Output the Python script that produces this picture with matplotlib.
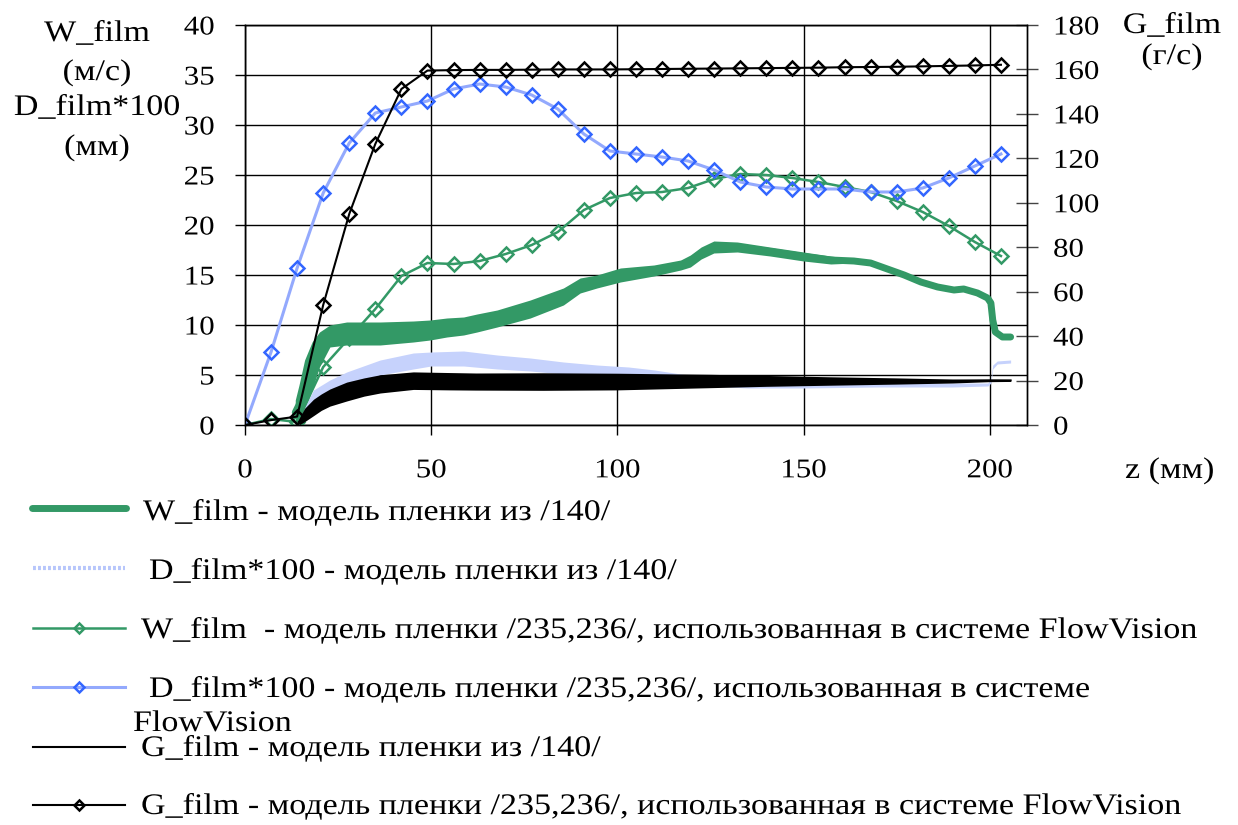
import matplotlib
matplotlib.use("Agg")
import numpy as np
import matplotlib.pyplot as plt
from matplotlib import patheffects
from matplotlib.transforms import Affine2D
from matplotlib.lines import Line2D

plt.rcParams['font.family'] = ['Liberation Serif', 'DejaVu Serif']

# ---------------- data ----------------
# FlowVision film model /235,236/ (sampled every 7 mm)
z_fv = [0, 7, 14, 21, 28, 35, 42, 49, 56, 63, 70, 77, 84, 91, 98,
        105, 112, 119, 126, 133, 140, 147, 154, 161, 168, 175, 182, 189, 196, 203]
w_fv = [0, 0.6, 0.3, 5.8, 8.7, 11.6, 14.9, 16.2, 16.1, 16.4, 17.1, 18.0, 19.3, 21.5, 22.7,
        23.2, 23.3, 23.7, 24.6, 25.1, 25.0, 24.7, 24.3, 23.8, 23.3, 22.4, 21.3, 19.9, 18.3, 16.9]
d_fv = [0, 7.3, 15.7, 23.2, 28.2, 31.2, 31.8, 32.4, 33.6, 34.1, 33.8, 33.0, 31.6, 29.1, 27.4,
        27.1, 26.8, 26.4, 25.5, 24.3, 23.8, 23.6, 23.6, 23.6, 23.3, 23.3, 23.7, 24.7, 25.9, 27.1]
g_fv = [0, 2.2, 3.8, 54, 95, 126.5, 151.2, 159.5, 159.7, 159.8, 159.8, 159.9, 160, 160, 160,
        160.1, 160.2, 160.3, 160.4, 160.5, 160.6, 160.7, 160.8, 161, 161.1, 161.2, 161.4, 161.6, 161.8, 162.1]

# Film model /140/ : scatter envelopes (low / high) of the dense solution
z_w140 = [13.5, 14.5, 16, 18, 20, 22.8, 27.3, 36.3, 45.2, 49.7, 54.2, 58.7, 62.3, 67.7, 76.6,
          85.5, 90, 94.5, 100.8, 109.8, 117, 119.6, 122.5, 125.9, 132.2, 141, 150, 157.3, 163.5, 168,
          172.5, 177, 181.5, 186, 190.4, 193, 196.7, 199.4, 200.3, 200.8, 201.5, 203.4, 205.6]
w140_lo = [0.0, 0.0, 1.5, 3.5, 5.8, 7.8, 8.0, 8.0, 8.3, 8.5, 8.8, 9.0, 9.3, 9.8, 10.7,
           12.0, 13.2, 13.7, 14.3, 14.9, 15.5, 15.8, 16.6, 17.2, 17.3, 16.9, 16.4, 16.1, 16.2, 16.0,
           15.4, 14.8, 14.1, 13.6, 13.3, 13.4, 13.0, 12.5, 12.0, 10.3, 9.2, 8.7, 8.7]
w140_hi = [2.5, 4.0, 6.5, 8.3, 9.3, 10.0, 10.3, 10.3, 10.4, 10.5, 10.7, 10.8, 11.1, 11.5, 12.5,
           13.7, 14.7, 15.0, 15.7, 16.0, 16.5, 17.0, 17.8, 18.4, 18.3, 17.8, 17.3, 16.9, 16.6, 16.4,
           15.8, 15.2, 14.5, 14.0, 13.7, 13.8, 13.4, 12.9, 12.4, 10.7, 9.4, 8.9, 8.9]

z_d140 = [14.5, 16, 18.4, 22.8, 27.3, 36.3, 45.2, 50, 58.7, 67.7, 76.6, 85.5, 94.5, 103, 110,
          117, 125, 135, 150, 170, 190, 199.5, 200.3, 200.8, 202, 205.6]
d140_lo = [0.0, 0.5, 1.5, 2.8, 4.0, 5.0, 5.6, 5.9, 5.9, 5.6, 5.4, 5.1, 4.9, 4.7, 4.5,
           4.2, 3.9, 3.7, 3.7, 3.8, 3.8, 3.9, 4.2, 5.6, 6.1, 6.2]
d140_hi = [0.3, 1.8, 3.5, 4.5, 5.3, 6.5, 7.2, 7.3, 7.4, 7.0, 6.7, 6.3, 6.0, 5.8, 5.5,
           5.1, 4.6, 4.3, 4.2, 4.2, 4.2, 4.2, 4.6, 6.0, 6.4, 6.5]

z_g140 = [14.5, 16, 18.4, 20.5, 22.8, 27.3, 32, 36.3, 45.2, 55, 62, 80, 100, 125, 140,
          157, 175, 190, 200, 205.6]
g140_lo = [0.0, 1.5, 4.2, 6.6, 8.5, 10.8, 13.0, 14.4, 16.0, 15.8, 15.7, 15.6, 15.8, 16.8, 17.4,
           17.9, 18.4, 18.9, 19.5, 19.6]
g140_hi = [2.9, 7.5, 11.6, 14.0, 16.2, 19.3, 21.2, 22.6, 23.9, 23.6, 23.4, 23.5, 23.3, 22.8, 22.3,
           21.7, 21.2, 20.7, 20.6, 20.5]

x_ticks = [0, 50, 100, 150, 200]
yl_ticks = [0, 5, 10, 15, 20, 25, 30, 35, 40]
yr_ticks = [0, 20, 40, 60, 80, 100, 120, 140, 160, 180]

legend_labels = [
    "W_film - модель пленки из /140/",
    "D_film*100 - модель пленки из /140/",
    "W_film  - модель пленки /235,236/, использованная в системе FlowVision",
    "D_film*100 - модель пленки /235,236/, использованная в системе",
    "G_film - модель пленки из /140/",
    "G_film - модель пленки /235,236/, использованная в системе FlowVision",
]
legend_wrap = "FlowVision"
left_label = ["W_film", "(м/с)", "D_film*100", "(мм)"]
right_label = ["G_film", "(г/с)"]
x_label = "z (мм)"

# ---------------- styles ----------------
GREEN = '#339966'
BLUE_LINE = '#93a9fd'
BLUE_MARK = '#3366ff'
BLUE_BAND = '#c6d2fc'


class Tracking(patheffects.AbstractPathEffect):
    """Widen glyph runs horizontally around an anchor (loose letter spacing look)."""

    def __init__(self, sx=1.14, anchor='left'):
        super().__init__()
        self.sx = sx
        self.anchor = anchor

    def draw_path(self, renderer, gc, tpath, affine, rgbFace=None):
        cx = 0.0
        if self.anchor != 'left' and len(tpath.vertices):
            ext = tpath.get_extents()
            cx = ext.x1 if self.anchor == 'right' else 0.5 * (ext.x0 + ext.x1)
        tr = Affine2D().translate(-cx, 0).scale(self.sx, 1).translate(cx, 0) + affine
        renderer.draw_path(gc, tpath, tr, rgbFace)


SX = 1.14
TICK_FS = 19.5
TEXT_FS = 21.5

W, H = 1238, 825
fig = plt.figure(figsize=(W / 100, H / 100), dpi=100)
ax = fig.add_axes([245 / W, 1 - 425 / H, 782 / W, 400 / H])
ax2 = ax.twinx()

# --- film model /140/ (left axis) ---
w140_mid = (np.array(w140_lo) + np.array(w140_hi)) / 2
ax.fill_between(z_w140, w140_lo, w140_hi, color=GREEN, lw=0, zorder=2)
ax.plot(z_w140, w140_mid, color=GREEN, lw=5, solid_capstyle='round',
        solid_joinstyle='round', zorder=2)
ax.fill_between(z_d140, d140_lo, d140_hi, color=BLUE_BAND, lw=0, zorder=2.1)

# --- FlowVision model (left axis) ---
ax.plot(z_fv, w_fv, color=GREEN, lw=1.8, marker='D', ms=7.5, mfc='none',
        mec=GREEN, mew=1.8, zorder=3)
ax.plot(z_fv, d_fv, color=BLUE_LINE, lw=2.2, marker='D', ms=7.5, mfc='none',
        mec=BLUE_MARK, mew=1.8, zorder=3.1)

# --- mass flow (right axis) ---
g140_mid = (np.array(g140_lo) + np.array(g140_hi)) / 2
ax2.fill_between(z_g140, g140_lo, g140_hi, color='black', lw=0, zorder=2)
ax2.plot(z_g140, g140_mid, color='black', lw=1.5, zorder=2)
ax2.plot(z_fv, g_fv, color='black', lw=1.5, marker='D', ms=7.5, mfc='none',
         mec='black', mew=1.8, zorder=3)

# --- axes, grid, ticks ---
ax.set_xlim(0, 210)
ax.set_ylim(0, 40)
ax2.set_ylim(0, 180)
ax.set_axisbelow(True)
ax.grid(True, color='black', lw=1.0)

ax.set_xticks(x_ticks, [str(v) for v in x_ticks], fontsize=TICK_FS,
              path_effects=[Tracking(SX, 'center')])
ax.set_yticks(yl_ticks, [str(v) for v in yl_ticks], fontsize=TICK_FS,
              path_effects=[Tracking(SX, 'right')])
ax2.set_yticks(yr_ticks, [str(v) for v in yr_ticks], fontsize=TICK_FS,
               path_effects=[Tracking(SX, 'left')])

ax.tick_params(axis='x', direction='out', length=7.5, width=1, pad=16.5)
ax.tick_params(axis='y', direction='out', length=7.5, width=1, pad=14.5)
ax2.tick_params(axis='y', direction='inout', length=16.5, width=1, pad=10.5,
                color='#444444')
for a in (ax, ax2):
    for s in a.spines.values():
        s.set_linewidth(1.0)
        s.set_color('black')

# --- free text and legend on a pixel-space overlay ---
lax = fig.add_axes([0, 0, 1, 1], zorder=5)
lax.set_xlim(0, W)
lax.set_ylim(H, 0)
lax.axis('off')


def put(x, y, s, ha='left', fs=TEXT_FS):
    lax.text(x, y, s, ha=ha, va='baseline', fontsize=fs,
             path_effects=[Tracking(SX, ha)])


for s, yb in zip(left_label, [41, 80, 115, 155]):
    put(97, yb, s, ha='center')
for s, yb in zip(right_label, [33, 64]):
    put(1172, yb, s, ha='center')
put(1125, 478, x_label)

rows = [508, 568, 628, 687, 747, 805]
text_x = [143, 149, 141, 149, 141, 141]
base = [520, 579, 638, 697, 756, 814]
hx0, hx1 = 33, 125
hxm = 0.5 * (hx0 + hx1)

lax.add_line(Line2D([hx0 - 1, hx1 + 1], [rows[0]] * 2, color=GREEN, lw=5,
                    solid_capstyle='round'))
lax.add_line(Line2D([hx0, hx1], [rows[1]] * 2, color='#b7c6fb', lw=3,
                    linestyle=(0, (0.7, 0.5))))
lax.add_line(Line2D([hx0, hx1], [rows[2]] * 2, color=GREEN, lw=1.8))
lax.add_line(Line2D([hxm], [rows[2]], marker='D', ms=5.5, mfc='none', mec=GREEN, mew=1.8))
lax.add_line(Line2D([hx0, hx1], [rows[3]] * 2, color=BLUE_LINE, lw=2.2))
lax.add_line(Line2D([hxm], [rows[3]], marker='D', ms=5.5, mfc='none', mec=BLUE_MARK, mew=1.8))
lax.add_line(Line2D([hx0, hx1], [rows[4]] * 2, color='black', lw=1.5))
lax.add_line(Line2D([hx0, hx1], [rows[5]] * 2, color='black', lw=1.5))
lax.add_line(Line2D([hxm], [rows[5]], marker='D', ms=5.5, mfc='none', mec='black', mew=1.8))

for s, x, yb in zip(legend_labels, text_x, base):
    put(x, yb, s)
put(133, 731, legend_wrap)

fig.savefig('out.png', dpi=100)
